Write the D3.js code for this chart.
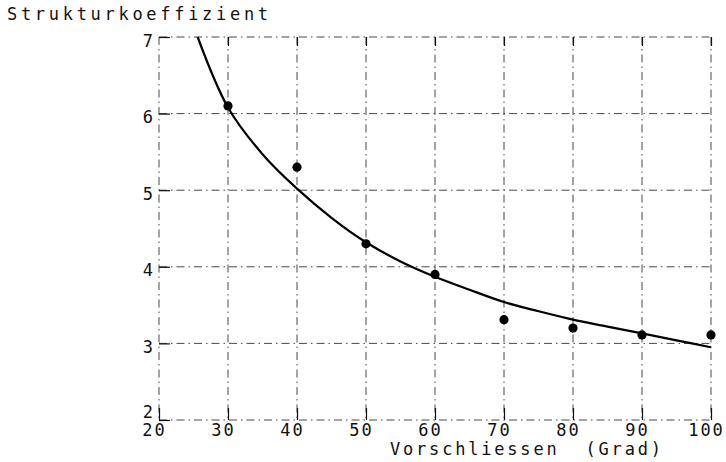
<!DOCTYPE html>
<html>
<head>
<meta charset="utf-8">
<script src="https://cdn.jsdelivr.net/npm/d3@7"></script>
<style>
  body { margin: 0; background: #fff; }
  text { font-family: "DejaVu Sans Mono", monospace; font-size: 17px; fill: #111; letter-spacing: 3px; }
</style>
</head>
<body>
<div id="chart"></div>
<script>
// measured points
let xPoints = [30, 40, 50, 60, 70, 80, 90, 100];
let yPoints = [6.1, 5.3, 4.3, 3.9, 3.31, 3.2, 3.11, 3.11];

// fitted curve
let xCurve = [25.6, 30, 35, 40, 45, 50, 55, 60, 65, 70, 75, 80, 85, 90, 95, 100];
let yCurve = [7.0, 6.08, 5.47, 5.02, 4.64, 4.32, 4.07, 3.87, 3.70, 3.54, 3.42, 3.31, 3.22, 3.13, 3.04, 2.95];

let xTicks = [20, 30, 40, 50, 60, 70, 80, 90, 100];
let yTicks = [2, 3, 4, 5, 6, 7];

let yTitle = "Strukturkoeffizient";
let xTitle = "Vorschliessen  (Grad)";

var width = 726, height = 462;

var svg = d3.select("#chart")
    .append("svg")
    .attr("width", width)
    .attr("height", height);

var x = d3.scaleLinear().domain([20, 100]).range([159, 711]);
var y = d3.scaleLinear().domain([2, 7]).range([420, 37]);

var dash = "8,4,1.5,4";

// grid (plotter style dash-dot)
svg.append("g")
    .selectAll("line")
    .data(xTicks)
    .enter()
    .append("line")
        .attr("x1", d => x(d)).attr("x2", d => x(d))
        .attr("y1", y(7)).attr("y2", y(2))
        .attr("stroke", "#333")
        .attr("stroke-width", 0.9)
        .attr("stroke-dasharray", dash);

svg.append("g")
    .selectAll("line")
    .data(yTicks)
    .enter()
    .append("line")
        .attr("x1", x(20)).attr("x2", x(100))
        .attr("y1", d => y(d)).attr("y2", d => y(d))
        .attr("stroke", "#333")
        .attr("stroke-width", 0.9)
        .attr("stroke-dasharray", dash);

// axes: short solid ticks + labels
var xAxis = svg.append("g")
    .attr("transform", "translate(0," + y(2) + ")")
    .call(d3.axisBottom(x).tickValues(xTicks).tickSize(-12).tickFormat(d3.format("d")));
xAxis.select(".domain").remove();
xAxis.selectAll(".tick line").attr("stroke", "#111").attr("stroke-width", 1.2);
xAxis.selectAll(".tick text")
    .attr("y", 16).attr("dy", 0).attr("dx", -5)
    .style("letter-spacing", "2px")
    .attr("font-size", null).attr("font-family", null).attr("fill", null);

var xTop = svg.append("g")
    .attr("transform", "translate(0," + y(7) + ")")
    .call(d3.axisTop(x).tickValues(xTicks.slice(1)).tickSize(-9).tickFormat(""));
xTop.select(".domain").remove();
xTop.selectAll(".tick line").attr("stroke", "#111").attr("stroke-width", 1.2);

var yAxis = svg.append("g")
    .attr("transform", "translate(" + x(20) + ",0)")
    .call(d3.axisLeft(y).tickValues(yTicks).tickSize(-11).tickFormat(d3.format("d")));
yAxis.select(".domain").remove();
yAxis.selectAll(".tick line").attr("stroke", "#111").attr("stroke-width", 1.2);
yAxis.selectAll(".tick text")
    .attr("x", -6).attr("dy", d => d == 2 ? -3 : 9)
    .attr("text-anchor", "end")
    .style("letter-spacing", "0px")
    .attr("font-size", null).attr("font-family", null).attr("fill", null);

// curve
var line = d3.line()
    .x((d, i) => x(xCurve[i]))
    .y(d => y(d))
    .curve(d3.curveCatmullRom.alpha(0.5));

svg.append("path")
    .datum(yCurve)
    .attr("d", line)
    .attr("fill", "none")
    .attr("stroke", "#000")
    .attr("stroke-width", 2.2);

// points
svg.append("g")
    .selectAll("circle")
    .data(yPoints)
    .enter()
    .append("circle")
        .attr("cx", (d, i) => x(xPoints[i]))
        .attr("cy", d => y(d))
        .attr("r", 4.6)
        .attr("fill", "#000");

// titles
svg.append("text")
    .attr("x", 7).attr("y", 20)
    .style("letter-spacing", "3.7px")
    .text(yTitle);

svg.append("text")
    .attr("x", 390).attr("y", 455)
    .attr("xml:space", "preserve")
    .style("white-space", "pre")
    .style("letter-spacing", "2.8px")
    .text(xTitle);
</script>
</body>
</html>
